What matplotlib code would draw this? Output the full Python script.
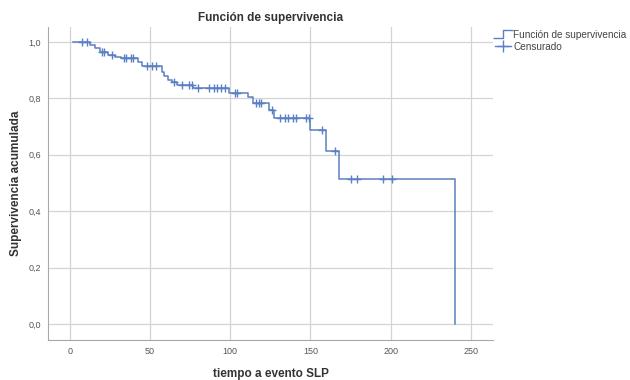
import matplotlib
matplotlib.use('Agg')
import matplotlib.pyplot as plt
import numpy as np
from matplotlib.lines import Line2D
from matplotlib.path import Path

# Kaplan-Meier step data
start_time = 2
event_times = [12.5, 15.5, 18.5, 24, 28, 32, 42.5, 45, 57.5, 59, 61, 63.5, 67, 77,
               99, 111, 114, 124, 127, 150, 160, 168, 240]
surv = [0.99, 0.98, 0.965, 0.955, 0.948, 0.943, 0.93, 0.915, 0.895, 0.88, 0.865,
        0.858, 0.848, 0.837, 0.82, 0.805, 0.785, 0.757, 0.73, 0.688, 0.614, 0.514, 0.0]
censor_times = [7.5, 10.5, 20, 21, 26, 34, 35, 38, 39.5, 48, 51, 54, 65, 70, 74, 76,
                80, 87, 90, 92, 94, 97, 103, 104, 116, 118, 119, 126, 131, 134, 136,
                139, 141, 147, 149, 157, 165, 175, 179, 195, 201]

x_ticks = [0, 50, 100, 150, 200, 250]
y_ticks = [0.0, 0.2, 0.4, 0.6, 0.8, 1.0]

plt.rcParams['font.family'] = ['Liberation Sans', 'DejaVu Sans']
line_color = '#5b7fc4'

fig = plt.figure(figsize=(6.3, 3.8), dpi=100)
ax = fig.add_axes([0.076, 0.105, 0.707, 0.824])

times = np.array([start_time] + event_times)
values = np.array([1.0] + surv)
ax.step(times, values, where='post', color=line_color, lw=1.1)

# censored marks sit on the step curve
idx = np.searchsorted(times, censor_times, side='right') - 1
ax.plot(censor_times, values[idx], '+', color=line_color, ms=6, mew=1.0)

ax.set_xlim(-13.7, 264)
ax.set_ylim(-0.057, 1.053)
ax.set_xticks(x_ticks)
ax.set_yticks(y_ticks)
ax.set_yticklabels([('%.1f' % v).replace('.', ',') for v in y_ticks])
ax.grid(True, color='#d4d4d4', lw=0.9)
ax.set_axisbelow(True)
for s in ['top', 'right']:
    ax.spines[s].set_visible(False)
for s in ['left', 'bottom']:
    ax.spines[s].set_color('#a8a8a8')
ax.tick_params(length=0, labelsize=6.5, labelcolor='#555555', pad=5)

ax.set_title('Función de supervivencia', fontsize=8.5, fontweight='bold',
             color='#333333', pad=4)
ax.set_xlabel('tiempo a evento SLP', fontsize=8.5, fontweight='bold',
              color='#333333')
ax.set_ylabel('Supervivencia acumulada', fontsize=8.5, fontweight='bold',
              color='#333333')
ax.xaxis.set_label_coords(0.5, -0.088)
ax.yaxis.set_label_coords(-0.058, 0.5)

# legend with a small step icon
step_path = Path([(-1, -0.4), (0, -0.4), (0, 0.4), (1, 0.4)],
                 [Path.MOVETO, Path.LINETO, Path.LINETO, Path.LINETO])
h1 = Line2D([], [], color=line_color, marker=step_path, ms=14, ls='none',
            mfc='none', mew=1.0)
h2 = Line2D([], [], color=line_color, marker='+', ms=8, lw=1.0, mew=1.0)
fig.legend([h1, h2], ['Función de supervivencia', 'Censurado'],
           loc='upper left', bbox_to_anchor=(0.772, 0.945), frameon=False,
           fontsize=7.2, handlelength=1.6, handletextpad=0.2, labelspacing=0.2,
           labelcolor='#444444')

fig.savefig('out.png', dpi=100)
